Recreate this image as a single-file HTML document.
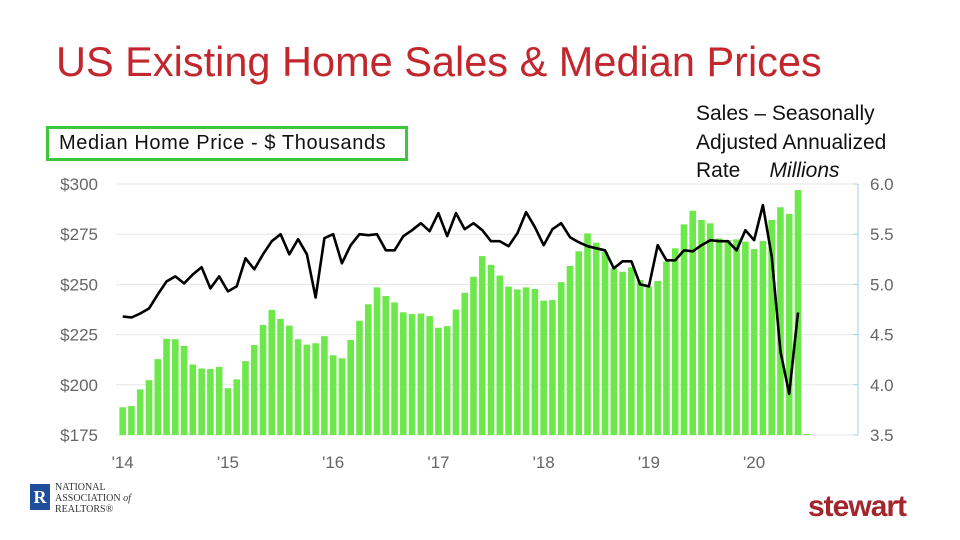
<!DOCTYPE html>
<html><head><meta charset="utf-8"><style>
body{margin:0;width:960px;height:540px;background:#fff;overflow:hidden;font-family:"Liberation Sans",sans-serif;position:relative}
.t{position:absolute}
</style></head><body>
<div class="t" style="left:56px;top:38px;font-size:41.5px;color:#c1272d;white-space:nowrap">US Existing Home Sales &amp; Median Prices</div>
<div class="t" style="left:46px;top:126px;width:346px;height:29px;border:3px solid #3cc83c;font-size:20px;line-height:29px;padding-left:10px;box-sizing:content-box;color:#111;white-space:nowrap;letter-spacing:0.6px">Median Home Price - $ Thousands</div>
<div class="t" style="left:696px;top:100px;font-size:21px;line-height:28.5px;color:#111;white-space:nowrap">Sales – Seasonally<br>Adjusted Annualized<br>Rate&nbsp;&nbsp;&nbsp;&nbsp; <i>Millions</i></div>
<svg id="chart" width="960" height="540" style="position:absolute;left:0;top:0"></svg>
<div class="t" style="left:30px;top:484px;width:20px;height:26px;background:#1f4e9c;color:#fff;font:bold 18px 'Liberation Serif',serif;text-align:center;line-height:26px">R</div>
<div class="t" style="left:55px;top:482px;font:10px 'Liberation Serif',serif;line-height:11px;color:#333">NATIONAL<br>ASSOCIATION <i>of</i><br>REALTORS®</div>
<div class="t" style="left:808px;top:490px;font-size:30px;font-weight:bold;color:#a3262c;letter-spacing:-1px">stewart</div>
<script>
const priceValues=[188.8,189.4,197.7,202.3,212.8,222.9,222.7,219.4,210.1,208.1,207.9,208.9,
198.3,202.7,211.8,219.8,229.8,237.3,232.8,229.5,222.7,220.0,220.7,224.2,
214.7,213.2,222.3,231.9,240.1,248.5,244.2,241.0,236.1,235.2,235.5,234.2,
228.4,229.2,237.5,245.8,253.8,264.1,259.7,254.4,248.9,247.5,248.5,247.7,
241.9,242.2,251.1,259.2,266.5,275.4,270.8,266.3,258.0,256.3,258.5,252.2,
248.9,251.7,261.3,268.0,279.9,286.7,282.1,280.4,272.9,272.1,272.4,271.3,
267.6,271.6,282.1,288.4,285.1,297.0,175.5];
const salesValues=[4.68,4.67,4.71,4.76,4.90,5.03,5.08,5.01,5.10,5.17,4.96,5.08,
4.93,4.98,5.26,5.15,5.30,5.43,5.50,5.30,5.45,5.30,4.87,5.46,
5.50,5.21,5.39,5.50,5.49,5.50,5.34,5.34,5.48,5.54,5.61,5.53,
5.71,5.48,5.71,5.55,5.61,5.54,5.43,5.43,5.38,5.51,5.72,5.57,
5.39,5.55,5.61,5.47,5.42,5.38,5.36,5.34,5.16,5.23,5.23,5.00,
4.98,5.39,5.24,5.24,5.34,5.33,5.39,5.44,5.43,5.43,5.34,5.54,
5.44,5.79,5.28,4.33,3.91,4.72];
const leftTicks=[175,200,225,250,275,300];
const rightTicks=["3.5","4.0","4.5","5.0","5.5","6.0"];
const yearLabels=["'14","'15","'16","'17","'18","'19","'20"];

const svg=document.getElementById('chart');const NS='http://www.w3.org/2000/svg';
function mk(t,a){const e=document.createElementNS(NS,t);for(const k in a)e.setAttribute(k,a[k]);svg.appendChild(e);return e;}
const x0=122.7,dx=8.77;
const xAt=i=>x0+i*dx;
const yL=v=>435-(v-175)*(251/125);
const yR=v=>435-(v-3.5)*(251/2.5);
leftTicks.forEach((v,i)=>{
 const g=mk('line',{x1:116,x2:858,y1:yL(v),y2:yL(v),stroke:'#e6e6e6','stroke-width':1});
 
 
 const t=mk('text',{x:98,y:yL(v)+6,'text-anchor':'end','font-size':17,fill:'#666','font-family':'Liberation Sans'});
 t.textContent='$'+v;
 
 
});
const ax=mk('line',{x1:858,x2:858,y1:184,y2:435,stroke:'#9fd3e6','stroke-width':1});


rightTicks.forEach(v=>{
 const y=yR(parseFloat(v));
 const tk=mk('line',{x1:853,x2:858,y1:y,y2:y,stroke:'#9fd3e6'});
 
 
 const t=mk('text',{x:870,y:y+6,'font-size':17,fill:'#666','font-family':'Liberation Sans'});
 t.textContent=v;
 
 
});
priceValues.forEach((v,i)=>{
 const y=yL(v);
 const b=mk('rect',{x:xAt(i)-3.3,y:y,width:6.6,height:Math.max(435-y,1),fill:'#6ce84a'});
 
 
});
const pts=salesValues.map((v,i)=>xAt(i).toFixed(1)+','+yR(v).toFixed(1)).join(' ');
const pl=mk('polyline',{points:pts,fill:'none',stroke:'#000','stroke-width':2.6,'stroke-linejoin':'round'});


yearLabels.forEach((l,i)=>{
 const t=mk('text',{x:xAt(i*12),y:468,'text-anchor':'middle','font-size':17,fill:'#666','font-family':'Liberation Sans'});
 t.textContent=l;
 
 
});
</script>
</body></html>
